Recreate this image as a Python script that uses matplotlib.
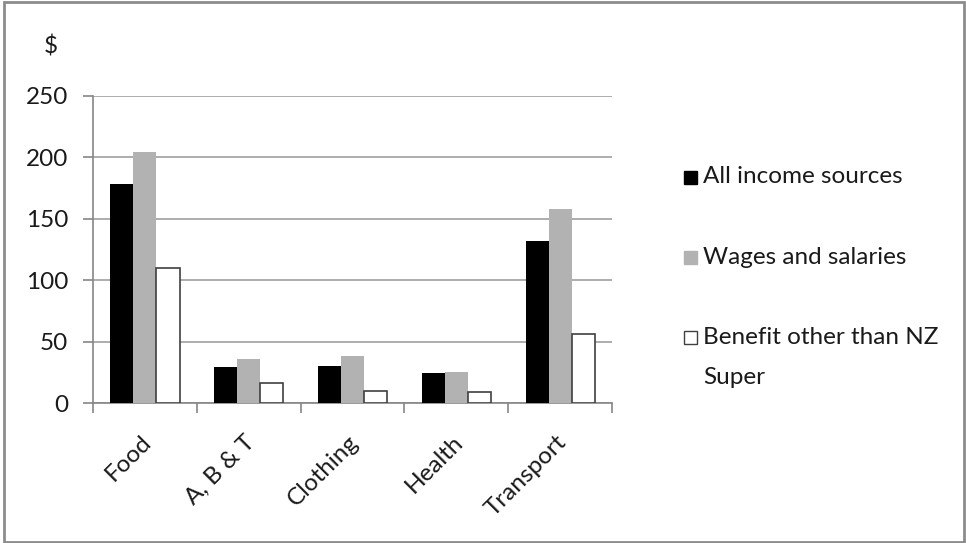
import matplotlib
matplotlib.use('Agg')
import matplotlib.pyplot as plt
from matplotlib.patches import Rectangle
from matplotlib.transforms import ScaledTranslation
import numpy as np

# ---- data ----
categories = ['Food', 'A, B & T', 'Clothing', 'Health', 'Transport']
all_income = [178, 29, 30, 24, 132]
wages = [204, 36, 38, 25, 158]
benefit = [110, 16, 10, 9, 56]
series_names = ['All income sources', 'Wages and salaries', 'Benefit other than NZ\nSuper']

plt.rcParams['font.family'] = ['Lato', 'DejaVu Sans']
txt_color = '#1a1a1a'
axis_color = '#868686'
fs = 17.5

W, H = 966, 543
fig = plt.figure(figsize=(W / 100, H / 100), dpi=100)
ax = fig.add_axes([93 / W, 140 / H, (612 - 93) / W, (447.3 - 140) / H])

x = np.arange(len(categories))
bw = 1 / 4.5  # gap width 150%
colors = ['#000000', '#b2b2b2', '#ffffff']
edges = ['#000000', '#b2b2b2', '#404040']
for i, vals in enumerate([all_income, wages, benefit]):
    ax.bar(x + (i - 1) * bw, vals, width=bw, color=colors[i],
           edgecolor=edges[i], linewidth=1.2 if i == 2 else 0, zorder=3)

ax.set_xlim(-0.5, len(categories) - 0.5)
ax.set_ylim(0, 250)
ax.set_yticks(np.arange(0, 251, 50))
ax.yaxis.grid(True, color='#a0a0a0', linewidth=1.2, zorder=0)
for s in ['top', 'right']:
    ax.spines[s].set_visible(False)
for s in ['left', 'bottom']:
    ax.spines[s].set_color(axis_color)
    ax.spines[s].set_linewidth(1.2)

ax.tick_params(axis='y', length=7, color=axis_color, width=1.2, labelsize=fs,
               labelcolor=txt_color, pad=11)
ax.set_xticks(x)
ax.set_xticklabels(categories, rotation=45, ha='right', va='center',
                   rotation_mode='anchor', fontsize=fs, color=txt_color)
ax.tick_params(axis='x', which='major', length=0, pad=26)
# 少し右へずらす
for lab in ax.get_xticklabels():
    lab.set_transform(lab.get_transform() + ScaledTranslation(0.03, 0, fig.dpi_scale_trans))
ax.set_xticks(np.arange(-0.5, len(categories), 1), minor=True)
ax.tick_params(axis='x', which='minor', length=7, color=axis_color, width=1.2)

fig.text(51 / W, 1 - 47 / H, '$', fontsize=fs, color=txt_color,
         ha='center', va='center')

# ---- legend ----
leg_y = [177, 257, 337]
for name, c, e, yy in zip(series_names, colors, edges, leg_y):
    fig.patches.append(Rectangle((684 / W, 1 - (yy + 7) / H), 13 / W, 13 / H,
                                 transform=fig.transFigure, facecolor=c,
                                 edgecolor=e if c == '#ffffff' else c,
                                 linewidth=1))
    for k, line in enumerate(name.split('\n')):
        fig.text(703 / W, 1 - (yy + 40 * k) / H, line, fontsize=fs,
                 color=txt_color, ha='left', va='center')

# border around chart
fig.patches.append(Rectangle((4 / W, 1 / H), (W - 6) / W, (H - 3) / H,
                             transform=fig.transFigure, fill=False,
                             edgecolor='#8c8c8c', linewidth=2))

fig.savefig('out.png', dpi=100)
